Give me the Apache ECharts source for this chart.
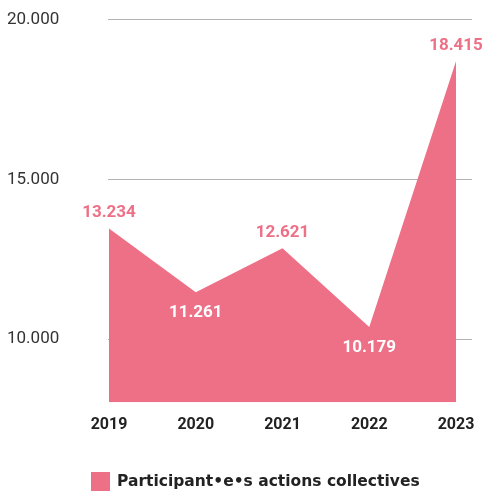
<!DOCTYPE html>
<html>
<head>
<meta charset="utf-8">
<script src="https://cdn.jsdelivr.net/npm/echarts@6/dist/echarts.min.js"></script>
<style>
html,body{margin:0;padding:0;background:#fff;}
#chart{width:483px;height:491px;}
</style>
</head>
<body>
<div id="chart"></div>
<script>
const years = ['2019', '2020', '2021', '2022', '2023'];
const participants = [13234, 11261, 12621, 10179, 18415];
const yTicks = [10000, 15000, 20000];
const seriesName = 'Participant•e•s actions collectives';

const PINK = '#ED7087';
const fmt = v => String(v).replace(/\B(?=(\d{3})+(?!\d))/g, '.');

const isValley = i => {
  const prev = i > 0 ? participants[i - 1] : Infinity;
  const next = i < participants.length - 1 ? participants[i + 1] : Infinity;
  return participants[i] < prev && participants[i] < next;
};

const areaData = participants.map((v, i) => ({
  value: v,
  label: isValley(i)
    ? { position: 'bottom', distance: 12, color: '#ffffff' }
    : { position: 'top', distance: 7, color: PINK }
}));

const chart = echarts.init(document.getElementById('chart'), null, { renderer: 'canvas' });
chart.setOption({
  animation: false,
  textStyle: { fontFamily: 'Roboto' },
  grid: [
    { left: 108, right: 11, top: 19.5, bottom: 88 },
    { left: 109, right: 27, top: 10, bottom: 88.7 }
  ],
  legend: {
    data: [seriesName],
    left: 91,
    top: 472,
    padding: 0,
    itemWidth: 19,
    itemHeight: 19,
    itemGap: 7,
    icon: 'rect',
    textStyle: { fontFamily: 'DejaVu Sans', fontWeight: 'bold', fontSize: 15.5, color: '#222', padding: [0, 0, 0, 2] }
  },
  xAxis: [
    { gridIndex: 0, type: 'category', data: years, show: false },
    {
      gridIndex: 1, type: 'category', data: years, boundaryGap: false,
      axisLine: { show: false }, axisTick: { show: false },
      axisLabel: { margin: 15, fontSize: 16, fontWeight: 'bold', color: '#222', fontFamily: 'Roboto' },
      splitLine: { show: false }
    }
  ],
  yAxis: [
    {
      gridIndex: 0, type: 'value', min: 8000, max: 20000, interval: 1000,
      axisLine: { show: false }, axisTick: { show: false },
      splitLine: { show: false },
      axisLabel: {
        align: 'left', margin: 101, fontSize: 17, color: '#333', fontFamily: 'Roboto',
        padding: [0, 0, 5, 0],
        showMinLabel: true, showMaxLabel: true,
        formatter: v => (yTicks.indexOf(v) >= 0 ? fmt(v) : '')
      }
    },
    {
      gridIndex: 1, type: 'value', min: 7850, max: 20000,
      show: false, splitLine: { show: false }
    }
  ],
  series: [
    {
      type: 'line', xAxisIndex: 0, yAxisIndex: 0, data: [], silent: true, z: 1,
      markLine: {
        silent: true, symbol: 'none', label: { show: false }, z: 1,
        lineStyle: { color: '#b3b3b3', width: 1, type: 'solid' },
        data: yTicks.map(t => ({ yAxis: t }))
      }
    },
    {
      name: seriesName, type: 'line', xAxisIndex: 1, yAxisIndex: 1, z: 10,
      data: areaData,
      symbol: 'circle', symbolSize: 0, showSymbol: true,
      itemStyle: { color: PINK },
      lineStyle: { width: 0, color: PINK },
      areaStyle: { color: PINK, opacity: 1 },
      label: {
        show: true, fontSize: 17, fontWeight: 'bold', fontFamily: 'Roboto',
        formatter: p => fmt(p.value)
      }
    }
  ]
});
</script>
</body>
</html>
